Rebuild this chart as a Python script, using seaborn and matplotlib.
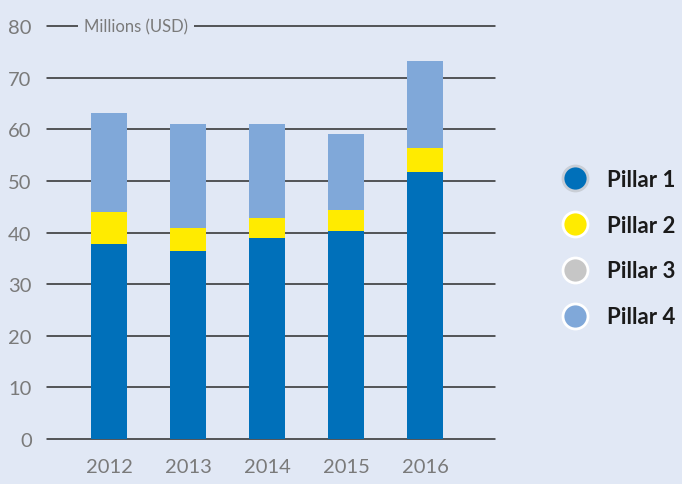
import matplotlib
matplotlib.use("Agg")
import matplotlib.pyplot as plt
from matplotlib.lines import Line2D
import numpy as np
import pandas as pd
import seaborn as sns

years = ["2012", "2013", "2014", "2015", "2016"]
pillar1 = [37.8, 36.4, 39.0, 40.3, 51.7]
pillar2 = [6.2, 4.5, 3.8, 4.1, 4.7]
pillar3 = [0.0, 0.0, 0.0, 0.0, 0.0]
pillar4 = [19.2, 20.1, 18.2, 14.7, 16.9]
series_names = ["Pillar 1", "Pillar 2", "Pillar 3", "Pillar 4"]
series_colors = ["#0070BA", "#FFEB00", "#C6C6C6", "#80A8D9"]
y_ticks = [0, 10, 20, 30, 40, 50, 60, 70, 80]
unit_label = "Millions (USD)"

BG = "#E1E8F5"

sns.set_theme(style="white")
plt.rcParams["font.family"] = ["Lato", "DejaVu Sans"]

df = pd.DataFrame({"year": years, "Pillar 1": pillar1, "Pillar 2": pillar2,
                   "Pillar 3": pillar3, "Pillar 4": pillar4})
stack = df[series_names].cumsum(axis=1)
stack["year"] = df["year"]

fig = plt.figure(figsize=(6.82, 4.85), dpi=100, facecolor=BG)
ax = fig.add_axes([47 / 682, 1 - 440 / 485, 448 / 682, 420 / 485])
ax.set_facecolor(BG)

# grid lines behind the bars
for t in y_ticks:
    ax.axhline(t, color="#2b2b2b", lw=1.1, zorder=0, clip_on=False)

# stacked bars: draw the cumulative totals from the top series down
for name, color in reversed(list(zip(series_names, series_colors))):
    sns.barplot(data=stack, x="year", y=name, order=years, color=color,
                width=0.456, saturation=1, ax=ax, zorder=2, edgecolor="none")

ax.set_xlim(-0.785, 4.886)
ax.set_ylim(0, 81.4)
ax.set_yticks(y_ticks)
ax.set_yticklabels([str(t) for t in y_ticks])
ax.set_xlabel("")
ax.set_ylabel("")
ax.tick_params(axis="both", length=0, labelsize=14.5, labelcolor="#7a7a7a")
ax.tick_params(axis="y", pad=11)
ax.tick_params(axis="x", pad=14)
for s in ax.spines.values():
    s.set_visible(False)

ax.text((84 - 47) / 448, 80, unit_label, transform=ax.get_yaxis_transform(),
        ha="left", va="center", fontsize=12, color="#7a7a7a", zorder=3,
        bbox=dict(boxstyle="square,pad=0.35", facecolor=BG, edgecolor="none"))

edge_cols = ["#C9CED6", "white", "white", "white"]
handles = [Line2D([], [], marker="o", linestyle="none", markersize=18,
                  markerfacecolor=c, markeredgecolor=e, markeredgewidth=2)
           for c, e in zip(series_colors, edge_cols)]
leg = fig.legend(handles, series_names, loc="center left",
                 bbox_to_anchor=(551 / 682, 1 - 249 / 485), frameon=False,
                 fontsize=16, labelspacing=1.12, handlelength=1.4,
                 handletextpad=0.72, borderaxespad=0)
for t in leg.get_texts():
    t.set_fontweight("bold")
    t.set_color("#1a1a1a")

fig.savefig("out.png", dpi=100, facecolor=BG)
